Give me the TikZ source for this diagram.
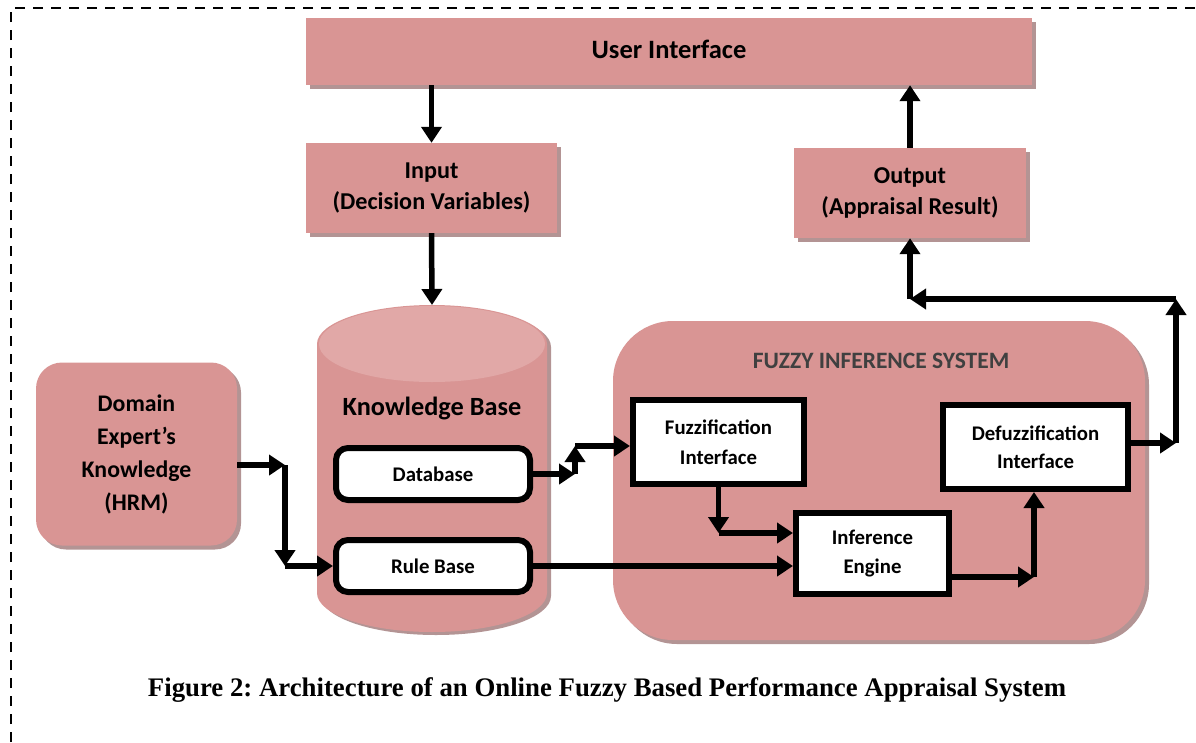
\documentclass[tikz,border=0pt]{standalone}
\usepackage{fontspec}
\usepackage{graphicx}
\setmainfont{Carlito}
\newfontfamily\capfont{Liberation Serif}
\usetikzlibrary{arrows.meta,shadows}
\definecolor{pinkf}{HTML}{D99594}
\definecolor{pinkl}{HTML}{E1A8A7}
\definecolor{shad}{HTML}{B39494}
\definecolor{fistext}{HTML}{404040}
\frenchspacing
\begin{document}
\begin{tikzpicture}[x=1pt,y=-1pt,
  arr/.style={line width=5.5pt, -{Triangle[length=16pt,width=20pt]}},
  shd/.style={drop shadow={shadow xshift=4pt,shadow yshift=-4pt,fill=shad,opacity=1}},
  pbox/.style={fill=pinkf, draw=none, shd, align=center, font=\bfseries\fontsize{24.2}{31}\selectfont, inner sep=0pt},
  wbox/.style={fill=white, draw=black, line width=6pt, align=center, font=\bfseries\fontsize{20.8}{29}\selectfont, inner sep=0pt},
]
\useasboundingbox (0,0) rectangle (1196,742);
\draw[dash pattern=on 10pt off 8pt, line width=2pt] (11,742) -- (11,8) -- (1196,8);

% top boxes
\node[pbox, minimum width=726pt, minimum height=67pt, font=\bfseries\fontsize{26.5}{30}\selectfont] (ui) at (669,51.5) {\raisebox{4pt}{User Interface}};
\node[pbox, minimum width=251pt, minimum height=90pt] (inp) at (431.5,188) {Input\\(Decision Variables)};
\node[pbox, minimum width=232pt, minimum height=90pt] (out) at (910,193) {Output\\(Appraisal Result)};

% domain
\node[pbox, minimum width=201pt, minimum height=183pt, rounded corners=26pt, font=\bfseries\fontsize{23.8}{33}\selectfont] (dom) at (136.5,454) {Domain\\Expert's\\Knowledge\\(HRM)};

% knowledge base cylinder
\fill[shad] (321,347) -- (321,596) arc[start angle=180,end angle=0,x radius=115,y radius=39] -- (551,347) arc[start angle=360,end angle=180,x radius=115,y radius=39] -- cycle;
\fill[pinkf] (317,344) -- (317,593) arc[start angle=180,end angle=0,x radius=115,y radius=39] -- (547,344) arc[start angle=360,end angle=180,x radius=115,y radius=39] -- cycle;
\fill[pinkl] (432,344) ellipse[x radius=113, y radius=38];
\coordinate (kbtop) at (432,305);
\node[font=\bfseries\fontsize{26.3}{30}\selectfont] (kb) at (432,408) {Knowledge Base};
\node[wbox, minimum width=194pt, minimum height=52pt, rounded corners=12pt] (db) at (433,474) {Database};
\node[wbox, minimum width=194pt, minimum height=52pt, rounded corners=12pt] (rb) at (433,566) {Rule Base};

% FIS
\node[pbox, minimum width=532pt, minimum height=319pt, rounded corners=60pt] (fis) at (879,480.5) {};
\node[font=\bfseries\fontsize{23.5}{26}\selectfont, text=fistext] (fist) at (881,361) {FUZZY INFERENCE SYSTEM};
\node[wbox, minimum width=171pt, minimum height=84pt, font=\bfseries\fontsize{20.8}{30}\selectfont] (fuz) at (718.5,442) {Fuzzification\\Interface};
\node[wbox, minimum width=153pt, minimum height=81pt, font=\bfseries\fontsize{20.8}{29}\selectfont] (inf) at (872.5,553.5) {Inference\\Engine};
\node[wbox, minimum width=185pt, minimum height=84pt, font=\bfseries\fontsize{20.8}{28}\selectfont] (def) at (1035.5,447) {Defuzzification\\Interface};

% connectors
\draw[arr] (inp.north |- ui.south) -- (inp.north);
\draw[arr] (inp.south) -- (kbtop);
\draw[arr] (out.north) -- (out.north |- ui.south);

\coordinate (j1) at (285,465);
\draw[arr] (dom.east |- j1) -- (j1);
\draw[arr] (j1) -- (j1 |- rb.west);
\draw[arr] (j1 |- rb.west) -- (rb.west);

\coordinate (j2) at (575,474);
\coordinate (j3) at (575,446);
\draw[arr] (db.east) -- (j2);
\draw[arr] (j2) -- (j3);
\draw[arr] (j3) -- (j3 -| fuz.west);

\coordinate (j4) at (718.5,533);
\draw[arr] (fuz.south) -- (j4);
\draw[arr] (j4) -- (j4 -| inf.west);

\draw[arr] (rb.east) -- (rb.east -| inf.west);

\coordinate (j5) at (1034,577);
\draw[arr] (inf.east |- j5) -- (j5);
\draw[arr] (j5) -- (j5 |- def.south);

\coordinate (j6) at (1176,443);
\coordinate (j7) at (1176,299);
\coordinate (j8) at (910,299);
\draw[arr] (def.east |- j6) -- (j6);
\draw[arr] (j6) -- (j7);
\draw[arr] (j7) -- (j8);
\draw[arr] (j8) -- (out.south);

% caption
\node (cap) at (607,690) {\resizebox{918pt}{!}{\capfont\bfseries Figure 2: Architecture of an Online Fuzzy Based Performance Appraisal System}};
\end{tikzpicture}
\end{document}
